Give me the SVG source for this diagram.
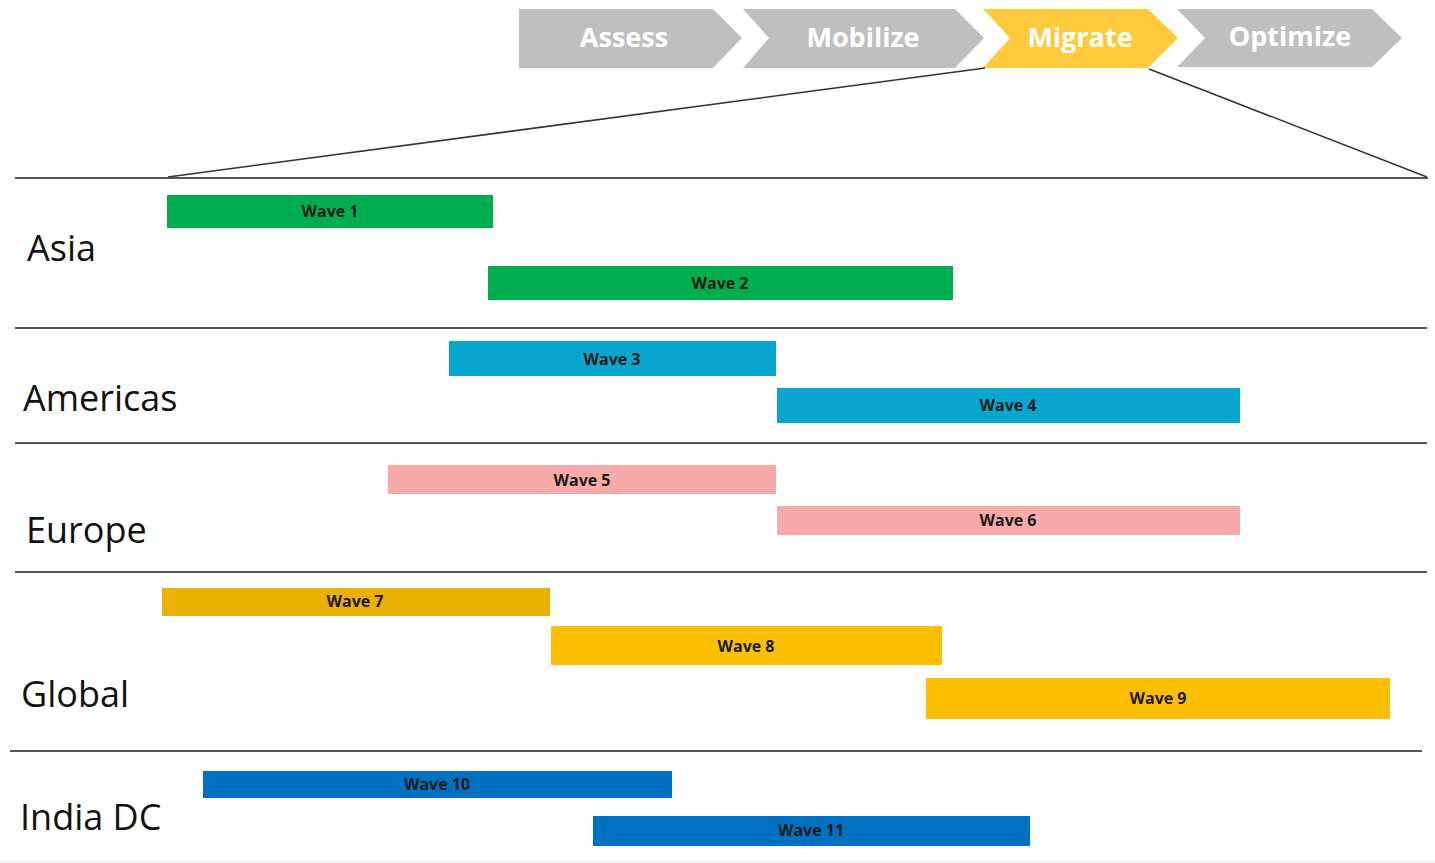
<svg xmlns="http://www.w3.org/2000/svg" width="1435" height="863" viewBox="0 0 1435 863">
<style>
.chev{fill:#BFBFBF}
.chev.on{fill:#FFC93C}
.ct{font-family:"Open Sans","Liberation Sans",sans-serif;font-weight:700;font-size:27px;fill:#FFFFFF;text-anchor:middle}
.region{font-family:"Open Sans","Liberation Sans",sans-serif;font-size:36px;fill:#111111}
.wt{font-family:"Open Sans","Liberation Sans",sans-serif;font-weight:700;font-size:16px;fill:#1A1A1A;text-anchor:middle}
.sep{stroke:#555555;stroke-width:2;fill:none}
.zoom{stroke:#333333;stroke-width:1.6;fill:none}
.asia{fill:#00AE4F}
.amer{fill:#06A6CF}
.euro{fill:#F8A9A9}
.g1{fill:#EBB000}
.g2{fill:#FFBF00}
.ind{fill:#0070C0}
</style>
<rect width="1435" height="863" fill="#FFFFFF"/>
<g id="phases">
<g id="phase-assess"><polygon class="chev" points="519,9 713,9 742,38 713,68 519,68"/><text class="ct" x="624" y="47">Assess</text></g>
<g id="phase-mobilize"><polygon class="chev" points="743,9 955,9 984,38 955,68 743,68 769,38"/><text class="ct" x="863" y="47">Mobilize</text></g>
<g id="phase-migrate"><polygon class="chev on" points="983,9 1148,9 1178,38 1148,68 983,68 1010,38"/><text class="ct" x="1080" y="47">Migrate</text></g>
<g id="phase-optimize"><polygon class="chev" points="1177,9 1372,9 1402,38 1372,67 1177,67 1205,38"/><text class="ct" x="1290" y="46">Optimize</text></g>
</g>
<g id="connectors">
<line class="zoom" x1="985" y1="68" x2="168" y2="177"/>
<line class="zoom" x1="1149" y1="69" x2="1427" y2="177"/>
</g>
<g id="separators">
<line class="sep" x1="15" y1="178" x2="1428" y2="178"/>
<line class="sep" x1="15" y1="328" x2="1427" y2="328"/>
<line class="sep" x1="15" y1="443" x2="1427" y2="443"/>
<line class="sep" x1="15" y1="572" x2="1427" y2="572"/>
<line class="sep" x1="10" y1="751" x2="1422" y2="751"/>
<line x1="0" y1="862" x2="1435" y2="862" stroke="#EEEEEE" stroke-width="1.5"/>
</g>
<g id="region-asia"><text class="region" x="27" y="261">Asia</text></g>
<g id="region-americas"><text class="region" x="23" y="411">Americas</text></g>
<g id="region-europe"><text class="region" x="26" y="543">Europe</text></g>
<g id="region-global"><text class="region" x="21" y="707">Global</text></g>
<g id="region-india"><text class="region" x="20" y="830">India DC</text></g>
<g id="wave1"><rect class="asia" x="167" y="195" width="326" height="33"/><text class="wt" x="330" y="217">Wave 1</text></g>
<g id="wave2"><rect class="asia" x="488" y="266" width="465" height="34"/><text class="wt" x="720" y="289">Wave 2</text></g>
<g id="wave3"><rect class="amer" x="449" y="341" width="327" height="35"/><text class="wt" x="612" y="365">Wave 3</text></g>
<g id="wave4"><rect class="amer" x="777" y="388" width="463" height="35"/><text class="wt" x="1008" y="411">Wave 4</text></g>
<g id="wave5"><rect class="euro" x="388" y="465" width="388" height="29"/><text class="wt" x="582" y="486">Wave 5</text></g>
<g id="wave6"><rect class="euro" x="777" y="506" width="463" height="29"/><text class="wt" x="1008" y="526">Wave 6</text></g>
<g id="wave7"><rect class="g1" x="162" y="588" width="388" height="28"/><text class="wt" x="355" y="607">Wave 7</text></g>
<g id="wave8"><rect class="g2" x="551" y="626" width="391" height="39"/><text class="wt" x="746" y="652">Wave 8</text></g>
<g id="wave9"><rect class="g2" x="926" y="678" width="464" height="41"/><text class="wt" x="1158" y="704">Wave 9</text></g>
<g id="wave10"><rect class="ind" x="203" y="771" width="469" height="27"/><text class="wt" x="437" y="790">Wave 10</text></g>
<g id="wave11"><rect class="ind" x="593" y="816" width="437" height="30"/><text class="wt" x="811" y="836">Wave 11</text></g>
</svg>
